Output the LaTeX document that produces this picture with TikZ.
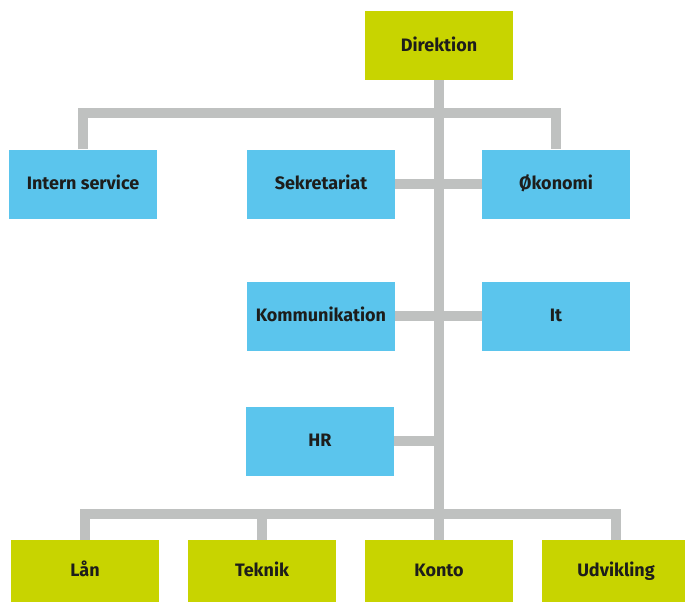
\documentclass[tikz,border=0pt]{standalone}
\usepackage{fontspec}
\setmainfont{Fira Sans}
\definecolor{dirgreen}{HTML}{C8D400}
\definecolor{deptblue}{HTML}{5BC5ED}
\definecolor{linkgray}{HTML}{BFC1C0}
\definecolor{labelink}{HTML}{1D1D1B}
\begin{document}
\begin{tikzpicture}[x=1pt,y=-1pt,
  unit/.style={fill=deptblue,minimum width=148pt,minimum height=69pt,inner sep=0pt,
    text height=12.5pt,text depth=1.5pt,
    text=labelink,font=\bfseries\fontsize{18}{18}\selectfont},
  head/.style={unit,fill=dirgreen},
  base/.style={unit,fill=dirgreen,minimum height=62pt},
  link/.style={draw=linkgray,line width=10pt}]

\clip (0,0) rectangle (685,603);

\node[head] (direktion) at (439,45.5) {Direktion};
\node[unit] (intern) at (83,184) {Intern service};
\node[unit] (sekretariat) at (321,184) {Sekretariat};
\node[unit] (okonomi) at (556,184) {Økonomi};
\node[unit] (kommunikation) at (321,316) {Kommunikation};
\node[unit] (it) at (556,316) {It};
\node[unit] (hr) at (320,441) {HR};
\node[base] (laan) at (85,571) {Lån};
\node[base] (teknik) at (262,571) {Teknik};
\node[base] (konto) at (439,571) {Konto};
\node[base] (udvikling) at (616,571) {Udvikling};

\coordinate (upper) at (439,112.5);
\coordinate (lower) at (439,514);

\draw[link] (direktion.south) -- (konto.north);
\draw[link] (intern.north) |- (upper) -| (okonomi.north);
\draw[link] (laan.north) |- (lower) -| (udvikling.north);
\draw[link] (teknik.north) -- (teknik.north |- lower);
\draw[link] (sekretariat.east) -- (okonomi.west);
\draw[link] (kommunikation.east) -- (it.west);
\draw[link] (hr.east) -- (hr.east -| direktion.south);
\end{tikzpicture}
\end{document}
